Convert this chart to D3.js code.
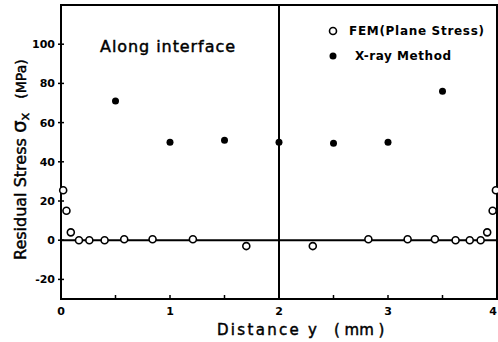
<!DOCTYPE html>
<html>
<head>
<meta charset="utf-8">
<script src="https://cdn.jsdelivr.net/npm/d3@7"></script>
<style>
  body { margin: 0; background: #fff; }
  text { font-family: "DejaVu Sans", sans-serif; fill: #000; }
  .heavy { stroke: #000; stroke-width: 0.45; }
</style>
</head>
<body>
<script>
// FEM (plane stress) values along interface, open circles
var femY = [0.02, 0.05, 0.09, 0.165, 0.26, 0.40, 0.58, 0.84, 1.21, 1.70, 2.31, 2.82, 3.18, 3.43, 3.62, 3.75, 3.85, 3.91, 3.96, 3.99];
var femS = [25.5, 15, 4, 0, 0, 0, 0.5, 0.5, 0.5, -3, -3, 0.5, 0.5, 0.5, 0, 0, 0, 4, 15, 25.5];
// X-ray measurements, filled circles
var xrayY = [0.5, 1.0, 1.5, 2.0, 2.5, 3.0, 3.5];
var xrayS = [71, 50, 51, 50, 49.5, 50, 76];
var xTicks = [0, 1, 2, 3, 4];
var xMinor = [0.5, 1.5, 2.5, 3.5];
var yTicks = [-20, 0, 20, 40, 60, 80, 100];

var W = 498, H = 342;
var m = {left: 61, right: 1, top: 5, bottom: 43};

var svg = d3.select("body").append("svg").attr("width", W).attr("height", H);

var x = d3.scaleLinear().domain([0, 4]).range([m.left, W - m.right]);
var y = d3.scaleLinear().domain([-30, 120]).range([H - m.bottom, m.top]);

// frame
svg.append("rect")
  .attr("x", x(0)).attr("y", y(120))
  .attr("width", x(4) - x(0)).attr("height", y(-30) - y(120))
  .attr("fill", "none").attr("stroke", "#000").attr("stroke-width", 2);

// zero line and y = 2 line
svg.append("line").attr("x1", x(0)).attr("x2", x(4)).attr("y1", y(0)).attr("y2", y(0))
  .attr("stroke", "#000").attr("stroke-width", 2);
svg.append("line").attr("x1", x(2)).attr("x2", x(2)).attr("y1", y(-30)).attr("y2", y(120))
  .attr("stroke", "#000").attr("stroke-width", 2);

// y ticks
svg.selectAll(".yt").data(yTicks).join("line")
  .attr("x1", x(0) - 3).attr("x2", x(0) + 3)
  .attr("y1", d => y(d)).attr("y2", d => y(d))
  .attr("stroke", "#000").attr("stroke-width", 1.5);
svg.selectAll(".yl").data(yTicks).join("text")
  .attr("x", x(0) - 6).attr("y", d => y(d) + 4)
  .attr("text-anchor", "end").attr("font-size", 11).attr("font-weight", "bold")
  .text(d => d);

// x ticks
svg.selectAll(".xt").data(xTicks.concat(xMinor)).join("line")
  .attr("x1", d => x(d)).attr("x2", d => x(d))
  .attr("y1", y(-30)).attr("y2", y(-30) - 4)
  .attr("stroke", "#000").attr("stroke-width", 1.5);
svg.selectAll(".xl").data(xTicks).join("text")
  .attr("x", d => x(d)).attr("y", y(-30) + 16)
  .attr("text-anchor", d => d == 4 ? "end" : "middle")
  .attr("font-size", 11).attr("font-weight", "bold")
  .text(d => d);

// axis titles
svg.append("text").attr("class", "heavy").attr("x", 217).attr("y", 335)
  .attr("font-size", 15).attr("textLength", 100).text("Distance y");
svg.append("text").attr("class", "heavy").attr("x", 334).attr("y", 335)
  .attr("font-size", 15).text("( mm )");

var yl = svg.append("text").attr("class", "heavy")
  .attr("transform", "translate(26,260) rotate(-90)")
  .attr("font-size", 16);
yl.append("tspan").text("Residual Stress ");
yl.append("tspan").attr("font-size", 20).text("σ");
yl.append("tspan").attr("font-size", 13).attr("dy", 3).text("x");
yl.append("tspan").attr("font-size", 14).attr("dy", -3).attr("dx", 14).text("(MPa)");

svg.append("text").attr("class", "heavy").attr("x", 100).attr("y", 52)
  .attr("font-size", 16).attr("textLength", 135).text("Along interface");

// data
svg.selectAll(".fem").data(femY).join("circle")
  .attr("cx", d => x(d)).attr("cy", (d, i) => y(femS[i])).attr("r", 3.5)
  .attr("fill", "#fff").attr("stroke", "#000").attr("stroke-width", 1.6);
svg.selectAll(".xr").data(xrayY).join("circle")
  .attr("cx", d => x(d)).attr("cy", (d, i) => y(xrayS[i])).attr("r", 3.5)
  .attr("fill", "#000");

// legend
svg.append("circle").attr("cx", 333).attr("cy", 31).attr("r", 3.5)
  .attr("fill", "#fff").attr("stroke", "#000").attr("stroke-width", 1.6);
svg.append("text").attr("x", 349).attr("y", 35).attr("font-size", 12).attr("font-weight", "bold")
  .attr("textLength", 135).text("FEM(Plane Stress)");
svg.append("circle").attr("cx", 333).attr("cy", 56).attr("r", 3.5).attr("fill", "#000");
svg.append("text").attr("x", 355).attr("y", 60).attr("font-size", 12).attr("font-weight", "bold")
  .attr("textLength", 96).text("X-ray Method");
</script>
</body>
</html>
